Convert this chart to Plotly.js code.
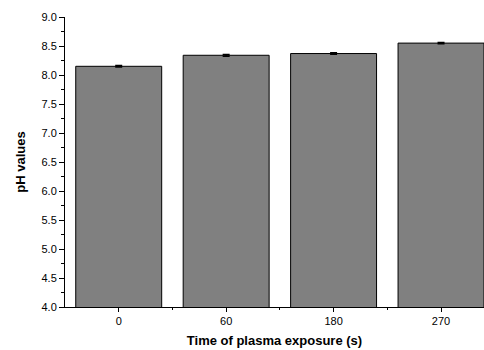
<!DOCTYPE html>
<html><head><meta charset="utf-8">
<script src="https://cdn.plot.ly/plotly-3.0.1.min.js"></script>
<style>html,body{margin:0;padding:0;background:#fff}#chart{width:484px;height:350px}</style>
</head><body><div id="chart"></div>
<script>
const categories = ["0", "60", "180", "270"];
const phValues = [8.15, 8.34, 8.37, 8.55];
const phErrors = [0.012, 0.015, 0.012, 0.010];
const yTickVals = [4.0, 4.5, 5.0, 5.5, 6.0, 6.5, 7.0, 7.5, 8.0, 8.5, 9.0];

const xPos = categories.map((c, i) => i);
const trace = {
  type: 'bar',
  x: xPos,
  y: phValues,
  marker: {color: '#808080', line: {color: '#000', width: 1}},
  error_y: {type: 'data', array: phErrors, visible: true, color: '#000', thickness: 1.5, width: 3.5},
  width: 0.8,
  hoverinfo: 'none'
};
const layout = {
  width: 484, height: 350,
  margin: {l: 65, r: 0, t: 17, b: 43},
  paper_bgcolor: '#fff', plot_bgcolor: '#fff',
  showlegend: false,
  font: {family: 'Arial, Liberation Sans, sans-serif', color: '#000', size: 11},
  xaxis: {
    type: 'linear', range: [-0.5, 3.4],
    tickvals: xPos, ticktext: categories,
    ticks: 'outside', ticklen: 4, tickcolor: '#000', tickwidth: 1,
    minor: {tickvals: [0.5, 1.5, 2.5], ticks: 'outside', ticklen: 2, tickcolor: '#000'},
    showline: true, linecolor: '#000', linewidth: 1,
    showgrid: false, zeroline: false,
    tickfont: {size: 11},
    title: {text: '<b>Time of plasma exposure (s)</b>', font: {size: 13}, standoff: 9}
  },
  yaxis: {
    range: [4.0, 9.0],
    tickvals: yTickVals, ticktext: yTickVals.map(v => v.toFixed(1)),
    ticks: 'outside', ticklen: 5, tickcolor: '#000', tickwidth: 1,
    minor: {dtick: 0.25, ticks: 'outside', ticklen: 3, tickcolor: '#000'},
    showline: true, linecolor: '#000', linewidth: 1,
    showgrid: false, zeroline: false,
    tickfont: {size: 11},
    title: {text: '<b>pH values</b>', font: {size: 13}, standoff: 12}
  }
};
Plotly.newPlot('chart', [trace], layout, {displayModeBar: false, staticPlot: true});
</script></body></html>
